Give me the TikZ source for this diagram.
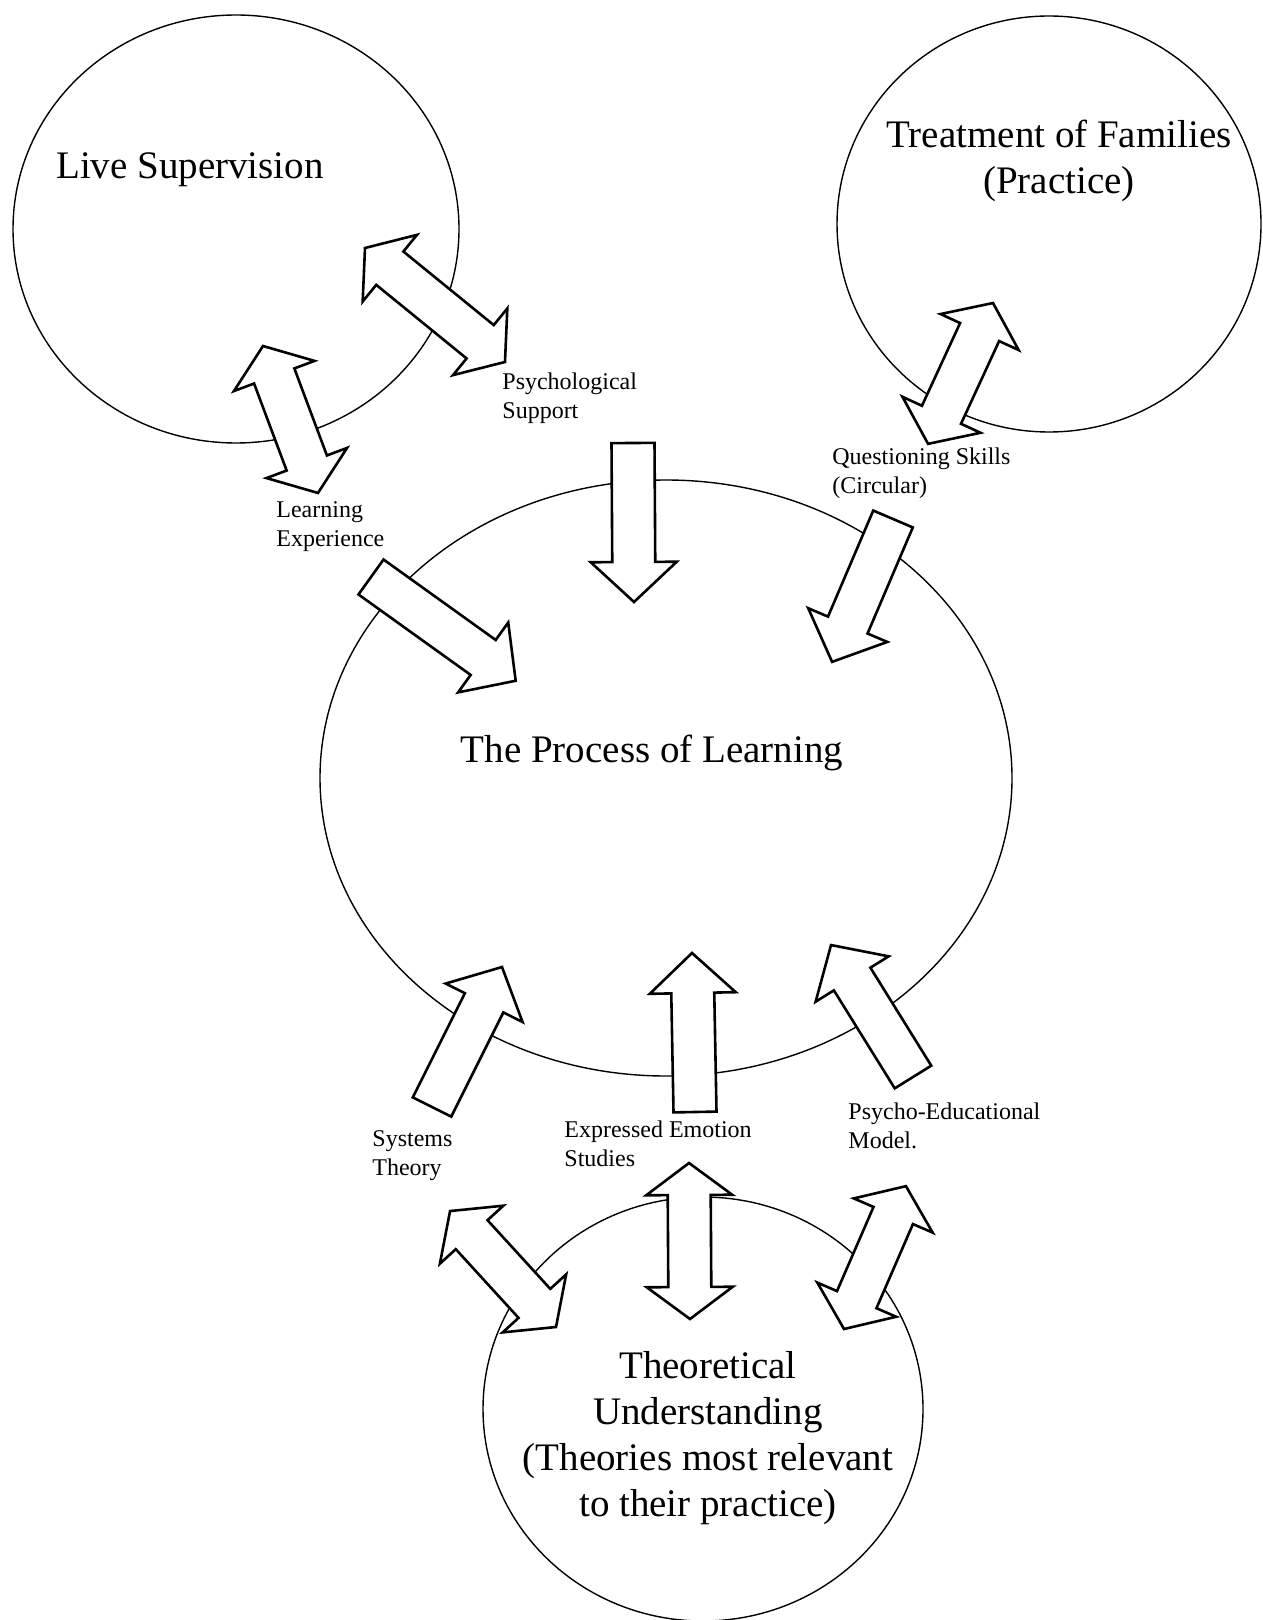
\documentclass[tikz,border=0pt]{standalone}
\usepackage{fontspec}
\setmainfont{Liberation Serif}
\usetikzlibrary{calc}

\tikzset{
  ring/.style={line width=0.7pt},
  bigtext/.style={font=\fontsize{19.5}{23}\selectfont, align=center, inner sep=0pt},
  smalltext/.style={font=\fontsize{12}{14.5}\selectfont, align=left, anchor=west, inner sep=0pt},
  blockarrow/.style={draw, fill=white, line width=1.3pt, line join=miter},
  % flat tail at start, head at target
  oneway/.style={blockarrow, to path={let \p1=(\tikztostart), \p2=(\tikztotarget),
      \n1={atan2(\y2-\y1,\x2-\x1)}, \n2={veclen(\x2-\x1,\y2-\y1)} in
      [shift={(\p1)}, rotate=\n1]
      (0pt,-10.75pt) -- ({\n2-20pt},-10.75pt) -- ({\n2-20pt},-21.5pt) -- ({\n2+0pt},0pt)
      -- ({\n2-20pt},21.5pt) -- ({\n2-20pt},10.75pt) -- (0pt,10.75pt) -- cycle}},
  % heads at both ends
  twoway/.style={blockarrow, to path={let \p1=(\tikztostart), \p2=(\tikztotarget),
      \n1={atan2(\y2-\y1,\x2-\x1)}, \n2={veclen(\x2-\x1,\y2-\y1)} in
      [shift={(\p1)}, rotate=\n1]
      (0pt,0pt) -- (16pt,21.5pt) -- (16pt,10.75pt) -- ({\n2-16pt},10.75pt) -- ({\n2-16pt},21.5pt)
      -- ({\n2+0pt},0pt) -- ({\n2-16pt},-21.5pt) -- ({\n2-16pt},-10.75pt) -- (16pt,-10.75pt)
      -- (16pt,-21.5pt) -- cycle}},
}

\begin{document}
\begin{tikzpicture}[x=0.5pt,y=-0.5pt]
\useasboundingbox (0,0) rectangle (1262,1620);

%Shape: Ellipse (Live Supervision)
\draw[ring] (236,229) ellipse [x radius=223, y radius=214];
%Shape: Ellipse (Treatment of Families)
\draw[ring] (1049,224) ellipse [x radius=212, y radius=208];
%Shape: Ellipse (Process of Learning)
\draw[ring] (666,778) ellipse [x radius=346, y radius=298];
%Shape: Ellipse (Theoretical Understanding)
\draw[ring] (703,1409) ellipse [x radius=220, y radius=212];

% Arrow ends
\coordinate (lsps1) at (365,248);  \coordinate (lsps2) at (505,362);
\coordinate (lsle1) at (263,346);  \coordinate (lsle2) at (318,493);
\coordinate (tfqs1) at (993,303);  \coordinate (tfqs2) at (928,444);
\coordinate (qspl1) at (893,519);  \coordinate (qspl2) at (832,662);
\coordinate (pspl1) at (633,443);  \coordinate (pspl2) at (634,602);
\coordinate (lepl1) at (371,577);  \coordinate (lepl2) at (516,681);
\coordinate (stpl1) at (432,1107); \coordinate (stpl2) at (502,967);
\coordinate (eepl1) at (695,1112); \coordinate (eepl2) at (692,953);
\coordinate (pepl1) at (913,1077); \coordinate (pepl2) at (831,945);
\coordinate (tust1) at (556,1327); \coordinate (tust2) at (450,1211);
\coordinate (tuee1) at (690,1319); \coordinate (tuee2) at (689,1163);
\coordinate (tupe1) at (844,1329); \coordinate (tupe2) at (906,1186);

%Block Arrows
\draw[twoway] (lsps1) to (lsps2);
\draw[twoway] (lsle1) to (lsle2);
\draw[twoway] (tfqs1) to (tfqs2);
\draw[oneway] (qspl1) to (qspl2);
\draw[oneway] (pspl1) to (pspl2);
\draw[oneway] (lepl1) to (lepl2);
\draw[oneway] (stpl1) to (stpl2);
\draw[oneway] (eepl1) to (eepl2);
\draw[oneway] (pepl1) to (pepl2);
\draw[twoway] (tust1) to (tust2);
\draw[twoway] (tuee1) to (tuee2);
\draw[twoway] (tupe1) to (tupe2);

% Text Node
\node[bigtext] (livesup) at (190,170) {Live Supervision};
% Text Node
\node[bigtext] (treatment) at (1059,161) {Treatment of Families\\(Practice)};
% Text Node
\node[bigtext] (process) at (652,753) {The Process of Learning};
% Text Node
\node[bigtext] (theory) at (708,1438) {Theoretical\\Understanding\\(Theories most relevant\\to their practice)};
% Text Node
\node[smalltext] (psychsup) at (502,398) {Psychological\\Support};
% Text Node
\node[smalltext] (learnexp) at (276,527) {Learning\\Experience};
% Text Node
\node[smalltext] (questskill) at (832,473) {Questioning Skills\\(Circular)};
% Text Node
\node[smalltext] (systems) at (372,1156) {Systems\\Theory};
% Text Node
\node[smalltext] (emotion) at (564,1144) {Expressed Emotion\\Studies};
% Text Node
\node[smalltext] (psychoed) at (848,1126) {Psycho-Educational\\Model.};
\end{tikzpicture}
\end{document}
